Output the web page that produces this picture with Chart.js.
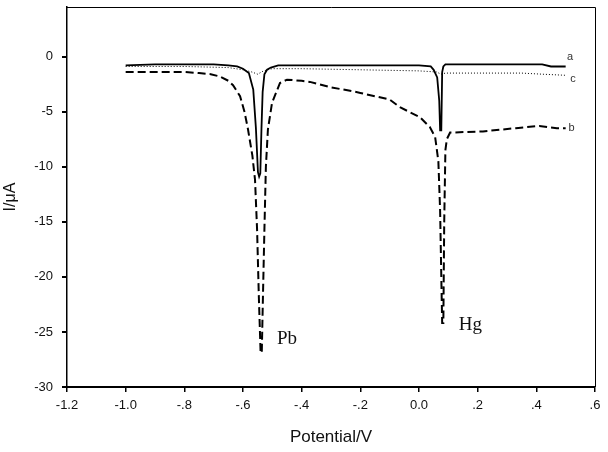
<!DOCTYPE html>
<html>
<head>
<meta charset="utf-8">
<script src="https://cdn.jsdelivr.net/npm/chart.js@4/dist/chart.umd.min.js"></script>
<style>
  html, body { margin: 0; padding: 0; background: #fff; }
  canvas { display: block; }
</style>
</head>
<body>
<canvas id="chart" width="608" height="452"></canvas>
<script>
// potential (V) and current (uA)
const aX = [-1.0, -0.9, -0.8, -0.7, -0.65, -0.62, -0.6, -0.58, -0.565, -0.556, -0.549, -0.545, -0.541, -0.537, -0.533, -0.527, -0.518, -0.505, -0.48, -0.4, -0.3, -0.2, -0.1, 0.0, 0.04, 0.05, 0.062, 0.069, 0.072, 0.076, 0.079, 0.083, 0.09, 0.2, 0.3, 0.42, 0.45, 0.5];
const aY = [-0.8, -0.7, -0.7, -0.7, -0.8, -0.9, -1.1, -1.5, -3.0, -6.5, -10.5, -10.9, -10.6, -6.5, -3.2, -1.6, -1.2, -1.0, -0.8, -0.8, -0.8, -0.8, -0.8, -0.8, -0.9, -1.2, -1.9, -4.0, -6.7, -6.7, -1.4, -0.9, -0.7, -0.7, -0.7, -0.7, -0.9, -0.9];

const bX = [-1.0, -0.9, -0.8, -0.75, -0.71, -0.68, -0.65, -0.634, -0.61, -0.595, -0.583, -0.568, -0.559, -0.552, -0.546, -0.54, -0.536, -0.532, -0.527, -0.522, -0.515, -0.501, -0.474, -0.45, -0.4, -0.372, -0.3, -0.235, -0.2, -0.1, -0.065, 0.003, 0.037, 0.055, 0.066, 0.072, 0.076, 0.079, 0.083, 0.086, 0.09, 0.095, 0.106, 0.218, 0.33, 0.41, 0.47, 0.5];
const bY = [-1.4, -1.4, -1.4, -1.5, -1.6, -1.8, -2.2, -2.6, -3.6, -5.0, -6.6, -9.0, -11.2, -15.7, -21.8, -26.9, -26.9, -21.8, -15.7, -10.0, -6.6, -4.2, -2.4, -2.1, -2.2, -2.3, -2.8, -3.1, -3.3, -3.9, -4.6, -5.5, -6.4, -7.3, -9.5, -14.0, -20.0, -24.2, -24.2, -15.0, -8.5, -7.5, -6.9, -6.8, -6.5, -6.3, -6.5, -6.5];

const cX = [-1.0, -0.8, -0.65, -0.6, -0.57, -0.55, -0.53, -0.5, -0.4, -0.2, 0.0, 0.06, 0.075, 0.09, 0.2, 0.35, 0.42, 0.5];
const cY = [-0.9, -0.9, -1.0, -1.2, -1.4, -1.6, -1.3, -1.1, -1.1, -1.2, -1.3, -1.4, -1.6, -1.5, -1.5, -1.5, -1.6, -1.7];

const xTicks = [-1.2, -1.0, -0.8, -0.6, -0.4, -0.2, 0.0, 0.2, 0.4, 0.6];
const xTickLabels = ['-1.2', '-1.0', '-.8', '-.6', '-.4', '-.2', '0.0', '.2', '.4', '.6'];
const yTicks = [-30, -25, -20, -15, -10, -5, 0];

// curve labels and peak names, in data units
const curveLabels = [
  { text: 'a', x: 0.515, y: 0.0, font: '11px "Liberation Sans", Arial, sans-serif', color: '#333' },
  { text: 'c', x: 0.525, y: -2.0, font: '11px "Liberation Sans", Arial, sans-serif', color: '#333' },
  { text: 'b', x: 0.52, y: -6.5, font: '11px "Liberation Sans", Arial, sans-serif', color: '#333' },
  { text: 'Pb', x: -0.45, y: -25.6, font: '19px "Liberation Serif", "Times New Roman", serif', color: '#111' },
  { text: 'Hg', x: 0.175, y: -24.4, font: '19px "Liberation Serif", "Times New Roman", serif', color: '#111' }
];

function pts(xs, ys) {
  return xs.map((x, i) => ({ x: x, y: ys[i] }));
}

const frame = {
  id: 'frame',
  afterDraw(chart) {
    const { ctx, chartArea: ca, scales } = chart;
    ctx.save();
    ctx.strokeStyle = '#000';
    ctx.lineWidth = 1;
    ctx.beginPath();
    ctx.moveTo(ca.left, ca.top + 0.5);
    ctx.lineTo(ca.right + 0.5, ca.top + 0.5);
    ctx.lineTo(ca.right + 0.5, ca.bottom);
    ctx.stroke();
    ctx.textAlign = 'center';
    ctx.textBaseline = 'middle';
    curveLabels.forEach(l => {
      ctx.font = l.font;
      ctx.fillStyle = l.color;
      ctx.fillText(l.text, scales.x.getPixelForValue(l.x), scales.y.getPixelForValue(l.y));
    });
    ctx.restore();
  }
};

new Chart(document.getElementById('chart'), {
  type: 'line',
  data: {
    datasets: [
      { label: 'a', data: pts(aX, aY), borderColor: '#000', borderWidth: 1.8 },
      { label: 'b', data: pts(bX, bY), borderColor: '#000', borderWidth: 2, borderDash: [8, 4] },
      { label: 'c', data: pts(cX, cY), borderColor: '#000', borderWidth: 1, borderDash: [1, 2] }
    ]
  },
  options: {
    responsive: false,
    animation: false,
    events: [],
    elements: { point: { radius: 0 }, line: { tension: 0, fill: false } },
    layout: { padding: { top: 7, right: 13, left: 0, bottom: 0 } },
    plugins: { legend: { display: false }, tooltip: { enabled: false } },
    scales: {
      x: {
        type: 'linear',
        min: -1.2,
        max: 0.6,
        afterBuildTicks: s => { s.ticks = xTicks.map(v => ({ value: v })); },
        afterFit: s => { s.height = 65; s.paddingLeft = 0; s.paddingRight = 0; },
        ticks: {
          color: '#111',
          padding: 6,
          maxRotation: 0,
          font: { family: '"Liberation Sans", Arial, sans-serif', size: 13 },
          callback: v => xTickLabels[xTicks.findIndex(t => Math.abs(t - v) < 1e-6)]
        },
        grid: { display: true, drawOnChartArea: false, drawTicks: true, tickLength: 5, color: '#000', lineWidth: 1.5 },
        border: { display: true, color: '#000', width: 2 },
        title: {
          display: true,
          text: 'Potential/V',
          color: '#111',
          font: { family: '"Liberation Sans", Arial, sans-serif', size: 17 },
          padding: { top: 0, bottom: 4 }
        }
      },
      y: {
        type: 'linear',
        min: -30,
        max: 4.5,
        afterBuildTicks: s => { s.ticks = yTicks.map(v => ({ value: v })); },
        afterFit: s => { s.width = 67; s.paddingTop = 0; s.paddingBottom = 0; },
        ticks: {
          color: '#111',
          padding: 9,
          font: { family: '"Liberation Sans", Arial, sans-serif', size: 13 },
          callback: v => String(v)
        },
        grid: { display: true, drawOnChartArea: false, drawTicks: true, tickLength: 5, color: '#000', lineWidth: 2 },
        border: { display: true, color: '#000', width: 1.5 },
        title: {
          display: true,
          text: 'I/μA',
          color: '#111',
          font: { family: '"Liberation Sans", Arial, sans-serif', size: 16 },
          padding: { top: 1, bottom: 0 }
        }
      }
    }
  },
  plugins: [frame]
});
</script>
</body>
</html>
